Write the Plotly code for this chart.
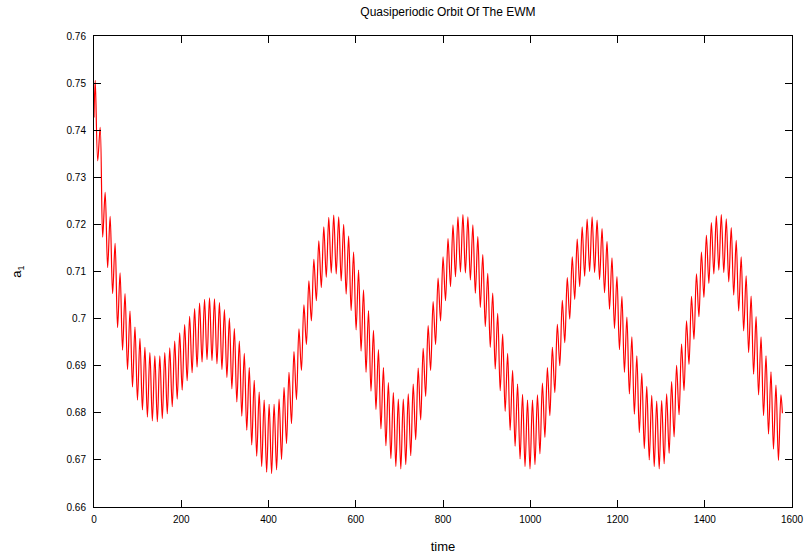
import plotly.graph_objects as go

# ---- data ----
START_TIME = 0.0
START_VALUE = 0.7427
END_TIME = 1578.0
END_VALUE = 0.6799
PEAK_T0 = 2.8          # time of the first local maximum
PERIOD = 11.39         # spacing of the fast oscillation

peaks = [
    0.7506, 0.7406, 0.7268, 0.7217, 0.7160, 0.7097, 0.7053, 0.7016, 0.6982, 0.6958,
    0.6939, 0.6928, 0.6921, 0.6921, 0.6928, 0.6938, 0.6952, 0.6970, 0.6987, 0.7005,
    0.7021, 0.7033, 0.7041, 0.7044, 0.7042, 0.7034, 0.7019, 0.7001, 0.6979, 0.6952,
    0.6926, 0.6896, 0.6869, 0.6844, 0.6827, 0.6818, 0.6818, 0.6829, 0.6854, 0.6886,
    0.6930, 0.6978, 0.7029, 0.7080, 0.7126, 0.7165, 0.7195, 0.7215, 0.7220, 0.7216,
    0.7200, 0.7175, 0.7141, 0.7103, 0.7061, 0.7017, 0.6975, 0.6934, 0.6896, 0.6864,
    0.6843, 0.6829, 0.6829, 0.6840, 0.6861, 0.6895, 0.6937, 0.6985, 0.7036, 0.7086,
    0.7131, 0.7170, 0.7199, 0.7216, 0.7221, 0.7216, 0.7199, 0.7174, 0.7136, 0.7096,
    0.7054, 0.7011, 0.6967, 0.6926, 0.6890, 0.6861, 0.6839, 0.6827, 0.6827, 0.6838,
    0.6863, 0.6896, 0.6939, 0.6988, 0.7039, 0.7087, 0.7131, 0.7169, 0.7195, 0.7211,
    0.7216, 0.7209, 0.7191, 0.7164, 0.7129, 0.7089, 0.7047, 0.7003, 0.6961, 0.6921,
    0.6884, 0.6856, 0.6837, 0.6825, 0.6826, 0.6840, 0.6866, 0.6901, 0.6946, 0.6995,
    0.7047, 0.7095, 0.7141, 0.7177, 0.7204, 0.7218, 0.7221, 0.7212, 0.7193, 0.7166,
    0.7131, 0.7091, 0.7048, 0.7004, 0.6961, 0.6921, 0.6887, 0.6859, 0.6838,
]

troughs = [
    0.7335, 0.7173, 0.7108, 0.7053, 0.6981, 0.6933, 0.6892, 0.6855, 0.6827, 0.6806,
    0.6791, 0.6783, 0.6781, 0.6788, 0.6798, 0.6813, 0.6829, 0.6848, 0.6868, 0.6885,
    0.6897, 0.6908, 0.6913, 0.6911, 0.6904, 0.6892, 0.6875, 0.6851, 0.6823, 0.6793,
    0.6763, 0.6732, 0.6708, 0.6686, 0.6674, 0.6671, 0.6679, 0.6701, 0.6735, 0.6777,
    0.6828, 0.6890, 0.6945, 0.6995, 0.7038, 0.7066, 0.7088, 0.7097, 0.7095, 0.7080,
    0.7052, 0.7017, 0.6976, 0.6931, 0.6886, 0.6846, 0.6807, 0.6766, 0.6730, 0.6703,
    0.6686, 0.6681, 0.6690, 0.6709, 0.6743, 0.6785, 0.6835, 0.6890, 0.6945, 0.6995,
    0.7038, 0.7068, 0.7089, 0.7099, 0.7097, 0.7082, 0.7054, 0.7024, 0.6983, 0.6939,
    0.6893, 0.6847, 0.6803, 0.6763, 0.6729, 0.6702, 0.6686, 0.6681, 0.6690, 0.6713,
    0.6748, 0.6794, 0.6843, 0.6900, 0.6949, 0.6999, 0.7041, 0.7068, 0.7090, 0.7100,
    0.7098, 0.7083, 0.7055, 0.7020, 0.6979, 0.6934, 0.6886, 0.6840, 0.6797, 0.6758,
    0.6724, 0.6700, 0.6686, 0.6681, 0.6692, 0.6714, 0.6749, 0.6796, 0.6847, 0.6903,
    0.6956, 0.7004, 0.7045, 0.7075, 0.7095, 0.7103, 0.7098, 0.7078, 0.7050, 0.7016,
    0.6974, 0.6928, 0.6882, 0.6838, 0.6794, 0.6755, 0.6723, 0.6699,
]

x_ticks = [0, 200, 400, 600, 800, 1000, 1200, 1400, 1600]
y_ticks = [0.66, 0.67, 0.68, 0.69, 0.70, 0.71, 0.72, 0.73, 0.74, 0.75, 0.76]
y_tick_labels = ["0.66", "0.67", "0.68", "0.69", "0.7", "0.71", "0.72",
                 "0.73", "0.74", "0.75", "0.76"]

# ---- assemble the curve: start, alternating extrema, end ----
xs = [START_TIME]
ys = [START_VALUE]
for k, p in enumerate(peaks):
    xs.append(PEAK_T0 + k * PERIOD)
    ys.append(p)
    if k < len(troughs):
        xs.append(PEAK_T0 + (k + 0.5) * PERIOD)
        ys.append(troughs[k])
xs.append(END_TIME)
ys.append(END_VALUE)

fig = go.Figure()
fig.add_trace(go.Scatter(
    x=xs, y=ys, mode="lines",
    line=dict(color="#ff0000", width=1.2, shape="spline", smoothing=1.0),
    showlegend=False, hoverinfo="skip",
))

font_family = "Liberation Sans, Arial, Helvetica, sans-serif"
axis_common = dict(
    showgrid=False, zeroline=False, automargin=False,
    showline=True, linecolor="black", linewidth=1,
    mirror="allticks", ticks="inside", ticklen=7, tickwidth=1, tickcolor="black",
    tickfont=dict(family=font_family, size=10, color="black"),
)

fig.update_layout(
    width=808, height=558,
    paper_bgcolor="white", plot_bgcolor="white",
    margin=dict(l=94, r=16, t=36, b=51),
    font=dict(family=font_family, color="black"),
    title=dict(text="Quasiperiodic Orbit Of The EWM",
               x=0.507, xanchor="center", xref="paper",
               y=0.979, yanchor="middle", yref="container",
               font=dict(family=font_family, size=12, color="black")),
    xaxis=dict(range=[0, 1600], tickvals=x_ticks,
               ticktext=[str(v) for v in x_ticks], ticklabelstandoff=3,
               title=dict(text="time", standoff=17,
                          font=dict(family=font_family, size=13, color="black")),
               **axis_common),
    yaxis=dict(range=[0.66, 0.76], tickvals=y_ticks, ticktext=y_tick_labels,
               ticklabelstandoff=5,
               title=dict(text="a<sub>1</sub>", standoff=41,
                          font=dict(family=font_family, size=13, color="black")),
               **axis_common),
)

fig.write_html("out.html",
               config={"displayModeBar": False, "responsive": False},
               post_script="document.body.style.margin='0';document.body.style.overflow='hidden';")
